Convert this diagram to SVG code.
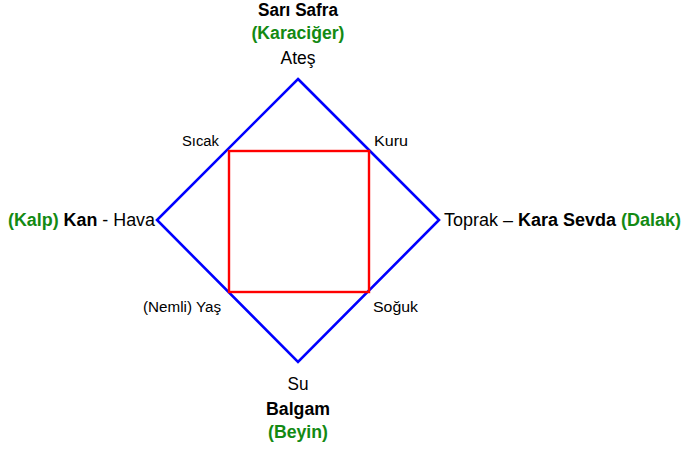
<svg xmlns="http://www.w3.org/2000/svg" width="681" height="450" viewBox="0 0 681 450">
<style>
text{font-family:"Liberation Sans",Arial,sans-serif;fill:#000}
.b{font-weight:bold}
.g{fill:#138a13;font-weight:bold}
.m{font-size:17.5px}
.s{font-size:14px}
</style>
<rect width="681" height="450" fill="#fff"/>
<g id="connectors">
<polygon id="diamond" points="298,79 439,220 298,362 157,220" fill="none" stroke="#0000ff" stroke-width="2.6"/>
<rect id="square" x="229" y="151" width="140" height="141" fill="none" stroke="#ff0000" stroke-width="2.4"/>
</g>
<g id="top">
<text class="m b" x="298" y="16" text-anchor="middle" textLength="80" lengthAdjust="spacingAndGlyphs">Sarı Safra</text>
<text class="m g" x="298" y="39" text-anchor="middle" textLength="93" lengthAdjust="spacingAndGlyphs">(Karaciğer)</text>
<text class="m" x="298" y="64" text-anchor="middle" textLength="35" lengthAdjust="spacingAndGlyphs">Ateş</text>
</g>
<g id="left">
<text class="m" x="155" y="226" text-anchor="end" textLength="147" lengthAdjust="spacingAndGlyphs"><tspan class="g">(Kalp)</tspan> <tspan class="b">Kan</tspan> - Hava</text>
</g>
<g id="right">
<text class="m" x="444" y="226" textLength="237" lengthAdjust="spacingAndGlyphs">Toprak – <tspan class="b">Kara Sevda</tspan> <tspan class="g">(Dalak)</tspan></text>
</g>
<g id="bottom">
<text class="m" x="298" y="390" text-anchor="middle" textLength="21" lengthAdjust="spacingAndGlyphs">Su</text>
<text class="m b" x="298" y="415" text-anchor="middle" textLength="64" lengthAdjust="spacingAndGlyphs">Balgam</text>
<text class="m g" x="298" y="438" text-anchor="middle" textLength="60" lengthAdjust="spacingAndGlyphs">(Beyin)</text>
</g>
<g id="corners">
<text class="s" x="219" y="146" text-anchor="end" textLength="37" lengthAdjust="spacingAndGlyphs">Sıcak</text>
<text class="s" x="374" y="146" textLength="34" lengthAdjust="spacingAndGlyphs">Kuru</text>
<text class="s" x="221" y="312" text-anchor="end" textLength="78" lengthAdjust="spacingAndGlyphs">(Nemli) Yaş</text>
<text class="s" x="373" y="312" textLength="45" lengthAdjust="spacingAndGlyphs">Soğuk</text>
</g>
</svg>
